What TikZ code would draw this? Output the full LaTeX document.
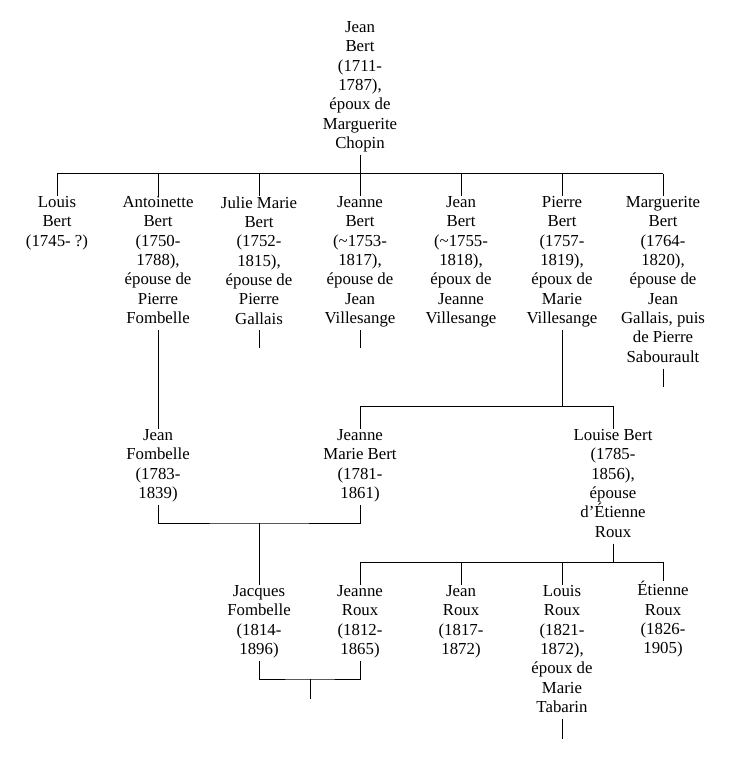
\documentclass[tikz,border=0pt]{standalone}
\usepackage{fontspec}
\setmainfont{Liberation Serif}

\begin{document}
\begin{tikzpicture}[x=0.75pt, y=-0.75pt, line width=0.75pt,
  person/.style={anchor=north, align=center, inner sep=0pt,
    font=\fontsize{12.6}{14.5}\selectfont,
    execute at begin node={\strut}, execute at end node={\strut}}]

  \useasboundingbox (0,0) rectangle (733,766);

  % first generation
  \node[person] (jean) at (360,21) {Jean\\Bert\\(1711-\\1787),\\époux de\\Marguerite\\Chopin};

  % children of Jean Bert
  \node[person] (louis) at (57,196) {Louis\\Bert\\(1745- ?)};
  \node[person] (antoinette) at (158,196) {Antoinette\\Bert\\(1750-\\1788),\\épouse de\\Pierre\\Fombelle};
  \node[person] (julie) at (259,196) {Julie Marie\\Bert\\(1752-\\1815),\\épouse de\\Pierre\\Gallais};
  \node[person] (jeanne) at (360,196) {Jeanne\\Bert\\(\textasciitilde1753-\\1817),\\épouse de\\Jean\\Villesange};
  \node[person] (jeanB) at (461,196) {Jean\\Bert\\(\textasciitilde1755-\\1818),\\époux de\\Jeanne\\Villesange};
  \node[person] (pierre) at (562,196) {Pierre\\Bert\\(1757-\\1819),\\époux de\\Marie\\Villesange};
  \node[person] (marguerite) at (663,196) {Marguerite\\Bert\\(1764-\\1820),\\épouse de\\Jean\\Gallais, puis\\de Pierre\\Sabourault};

  \coordinate (jeanKids) at (360,174);
  \draw (jean.south) -- (jeanKids);
  \draw (louis.north |- jeanKids) -- (marguerite.north |- jeanKids);
  \draw (louis.north |- jeanKids) -- (louis.north);
  \draw (antoinette.north |- jeanKids) -- (antoinette.north);
  \draw (julie.north |- jeanKids) -- (julie.north);
  \draw (jeanne.north |- jeanKids) -- (jeanne.north);
  \draw (jeanB.north |- jeanKids) -- (jeanB.north);
  \draw (pierre.north |- jeanKids) -- (pierre.north);
  \draw (marguerite.north |- jeanKids) -- (marguerite.north);

  % open stems
  \coordinate (julieEnd) at (259,348);
  \coordinate (jeanneEnd) at (360,348);
  \coordinate (margueriteEnd) at (663,387);
  \draw (julie.south) -- (julieEnd);
  \draw (jeanne.south) -- (jeanneEnd);
  \draw (marguerite.south) -- (margueriteEnd);

  % grandchildren
  \node[person] (jeanF) at (158,429) {Jean\\Fombelle\\(1783-\\1839)};
  \node[person] (jeanneM) at (360,429) {Jeanne\\Marie Bert\\(1781-\\1861)};
  \node[person] (louise) at (613,429) {Louise Bert\\(1785-\\1856),\\épouse\\d’Étienne\\Roux};

  \draw (antoinette.south) -- (jeanF.north);

  \coordinate (pierreKids) at (562,406);
  \draw (pierre.south) -- (pierreKids);
  \draw (jeanneM.north |- pierreKids) -- (louise.north |- pierreKids);
  \draw (jeanneM.north |- pierreKids) -- (jeanneM.north);
  \draw (louise.north |- pierreKids) -- (louise.north);

  % great-grandchildren
  \node[person] (jacques) at (259,585) {Jacques\\Fombelle\\(1814-\\1896)};
  \node[person] (jeanneR) at (360,585) {Jeanne\\Roux\\(1812-\\1865)};
  \node[person] (jeanR) at (461,585) {Jean\\Roux\\(1817-\\1872)};
  \node[person] (louisR) at (562,585) {Louis\\Roux\\(1821-\\1872),\\époux de\\Marie\\Tabarin};
  \node[person] (etienne) at (663,581) {Étienne\\Roux\\(1826-\\1905)};

  \coordinate (fombKids) at (259,523);
  \draw (jeanF.south) |- (fombKids) -| (jeanneM.south);
  \draw (fombKids) -- (jacques.north);

  \coordinate (rouxKids) at (613,562);
  \draw (louise.south) -- (rouxKids);
  \draw (jeanneR.north |- rouxKids) -- (etienne.north |- rouxKids);
  \draw (jeanneR.north |- rouxKids) -- (jeanneR.north);
  \draw (jeanR.north |- rouxKids) -- (jeanR.north);
  \draw (louisR.north |- rouxKids) -- (louisR.north);
  \draw (etienne.north |- rouxKids) -- (etienne.north);

  % last couple and open stems
  \coordinate (jacquesKids) at (310,679);
  \coordinate (jacquesEnd) at (310,699);
  \draw (jacques.south) |- (jacquesKids) -| (jeanneR.south);
  \draw (jacquesKids) -- (jacquesEnd);

  \coordinate (louisREnd) at (562,739);
  \draw (louisR.south) -- (louisREnd);

\end{tikzpicture}
\end{document}
